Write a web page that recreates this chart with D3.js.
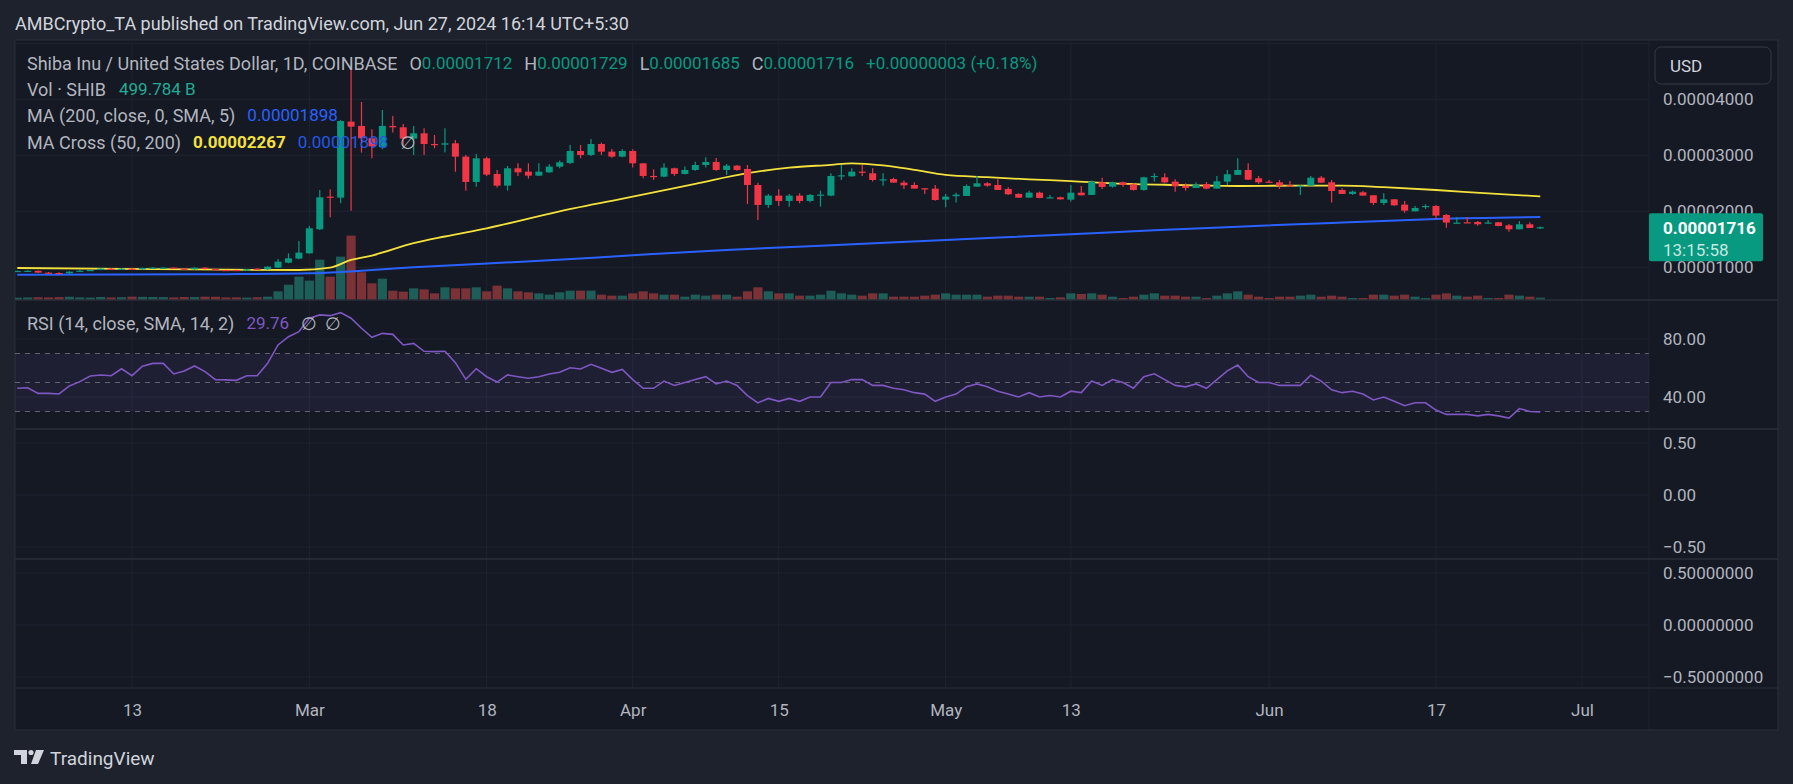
<!DOCTYPE html>
<html><head><meta charset="utf-8">
<script src="https://cdn.jsdelivr.net/npm/d3@7"></script>
<style>
html,body{margin:0;padding:0;background:#1e222d;}
svg{display:block;font-family:Roboto,"Noto Sans",sans-serif;}
</style></head><body>
<svg id="c" width="1793" height="784"></svg>
<script>
// ---------------- DATA ----------------
const firstDay = "2024-02-02", lastDay = "2024-06-27";   // one daily candle per day
const PRICE_UNIT = 1e-5; // prices below are in units of 0.00001 USD
const openP = [
.929,.935,.938,.905,.899,.893,.923,.940,.952,.976,.964,.976,.964,.988,.976,.994,.976,.964,.994,.970,.952,.952,.946,.976,
.964,.994,1.083,1.155,1.250,1.679,2.262,2.244,3.601,3.524,3.304,3.143,3.524,3.500,3.298,3.393,3.202,3.190,3.214,2.976,
2.524,2.946,2.667,2.458,2.768,2.708,2.637,2.696,2.798,2.863,3.077,3.006,3.202,3.065,2.976,3.077,2.857,2.631,2.619,2.768,
2.667,2.738,2.827,2.881,2.738,2.815,2.756,2.470,2.113,2.280,2.185,2.280,2.185,2.286,2.280,2.631,2.625,2.708,2.679,2.560,
2.577,2.512,2.470,2.411,2.405,2.208,2.270,2.274,2.440,2.500,2.470,2.399,2.310,2.244,2.333,2.238,2.250,2.208,2.333,2.292,
2.518,2.440,2.518,2.482,2.381,2.619,2.607,2.530,2.458,2.417,2.488,2.405,2.530,2.650,2.738,2.589,2.530,2.518,2.464,2.452,
2.458,2.601,2.518,2.381,2.310,2.339,2.286,2.149,2.214,2.119,2.000,2.077,2.095,1.935,1.792,1.804,1.810,1.792,1.804,1.750,
1.679,1.768,1.712];
const highP = [
.941,.947,.944,.917,.911,.929,.946,.958,.982,.988,.988,.994,.994,1.006,1.000,1.000,.988,1.000,1.006,.976,.958,.958,.970,.982,
1.020,1.149,1.250,1.470,1.738,2.381,2.393,3.630,4.571,3.952,3.464,3.810,3.702,3.560,3.524,3.482,3.363,3.482,3.274,3.006,
3.024,2.976,2.738,2.810,2.857,2.857,2.857,2.845,2.905,3.185,3.185,3.292,3.226,3.113,3.107,3.107,2.857,2.750,2.857,2.780,
2.798,2.887,2.964,2.952,2.845,2.827,2.827,2.512,2.310,2.393,2.310,2.321,2.310,2.369,2.679,2.827,2.768,2.827,2.768,2.679,
2.601,2.548,2.518,2.411,2.470,2.310,2.333,2.482,2.631,2.518,2.571,2.429,2.321,2.369,2.351,2.292,2.262,2.470,2.452,2.548,
2.601,2.530,2.530,2.500,2.619,2.679,2.679,2.571,2.500,2.518,2.524,2.631,2.738,2.946,2.857,2.631,2.560,2.560,2.542,2.464,
2.631,2.631,2.560,2.411,2.369,2.363,2.286,2.321,2.220,2.185,2.095,2.125,2.113,1.952,1.893,1.893,1.827,1.845,1.810,1.774,
1.827,1.804,1.729];
const lowP = [
.917,.923,.899,.893,.881,.887,.917,.934,.946,.958,.958,.958,.958,.976,.970,.970,.958,.958,.964,.940,.934,.940,.940,.958,
.958,.988,1.071,1.143,1.240,1.667,1.893,2.143,2.012,3.048,2.946,3.107,3.405,3.167,3.006,3.006,3.125,3.048,2.708,2.369,
2.440,2.631,2.423,2.369,2.631,2.583,2.631,2.690,2.768,2.845,2.946,2.988,3.006,2.958,2.964,2.780,2.589,2.560,2.607,2.631,
2.655,2.726,2.780,2.726,2.649,2.726,2.131,1.845,2.065,2.095,2.083,2.143,2.161,2.083,2.270,2.560,2.619,2.631,2.530,2.458,
2.512,2.399,2.405,2.310,2.190,2.071,2.155,2.274,2.440,2.440,2.381,2.292,2.244,2.244,2.232,2.232,2.208,2.173,2.286,2.292,
2.399,2.423,2.440,2.369,2.369,2.530,2.500,2.351,2.369,2.417,2.393,2.405,2.470,2.650,2.560,2.488,2.512,2.399,2.440,2.292,
2.458,2.512,2.155,2.310,2.292,2.280,2.113,2.113,2.101,1.976,2.000,2.042,1.863,1.708,1.792,1.798,1.744,1.780,1.732,1.637,
1.679,1.702,1.685];
const closeP = [
.935,.938,.905,.899,.893,.923,.940,.952,.976,.964,.976,.964,.988,.994,.994,.976,.964,.994,.970,.946,.940,.946,.964,.964,
1.012,1.101,1.161,1.262,1.696,2.250,2.250,3.613,3.512,3.304,3.160,3.524,3.500,3.298,3.393,3.202,3.190,3.214,2.976,2.524,
2.946,2.655,2.458,2.768,2.696,2.637,2.708,2.798,2.875,3.077,3.006,3.202,3.065,2.976,3.077,2.857,2.631,2.625,2.780,2.667,
2.738,2.827,2.881,2.738,2.815,2.738,2.470,2.113,2.280,2.185,2.280,2.185,2.292,2.298,2.631,2.643,2.708,2.696,2.560,2.571,
2.512,2.464,2.405,2.405,2.202,2.262,2.298,2.452,2.500,2.458,2.381,2.304,2.244,2.333,2.238,2.250,2.214,2.333,2.286,2.530,
2.435,2.518,2.470,2.381,2.607,2.631,2.518,2.446,2.417,2.476,2.405,2.536,2.661,2.738,2.565,2.518,2.518,2.458,2.458,2.458,
2.601,2.512,2.363,2.310,2.351,2.280,2.149,2.214,2.107,2.012,2.060,2.095,1.923,1.798,1.798,1.798,1.768,1.800,1.738,1.679,
1.768,1.702,1.716];
// volume in billions of SHIB
const volumeB = [
500,550,600,560,620,700,560,520,650,560,600,720,680,650,620,560,650,640,720,700,560,580,520,600,
720,1870,3300,5040,4180,8700,5040,9360,13900,5980,3600,4600,2000,1800,2520,2300,1440,2740,2520,2520,
2740,1870,3100,2520,1870,1660,1440,1150,1660,2020,2020,2020,1150,940,940,1440,1870,1440,1150,1150,
720,1150,940,1150,1150,720,1870,2740,1870,1440,1440,940,940,1150,2000,1440,1150,940,1440,1440,
720,720,720,940,1150,1440,1150,1150,1150,720,940,940,720,720,720,430,580,1440,1300,1440,
1150,720,430,720,1150,1440,940,940,720,720,430,940,1440,1870,1150,720,430,720,720,940,
1150,720,940,720,430,430,1150,1150,940,1150,720,430,1150,1440,940,720,940,430,430,1150,
940,720,499.784];
const rsi = [
46.0,46.4,42.5,42.5,42.1,47.6,50.6,54.5,55.2,54.7,59.5,54.7,61.2,63.2,63.2,55.9,57.9,61.4,57.5,52.0,51.8,51.5,54.7,54.7,
63.2,75.9,81.6,85.1,94.3,96.6,96.1,98.2,94.3,87.4,81.2,83.9,83.2,75.9,77.0,71.5,71.3,71.5,63.7,52.2,
59.5,54.0,50.3,55.2,54.0,52.9,54.0,55.9,57.0,60.2,59.3,62.5,59.8,57,59,52,46,46,51,48,
50,52,54,49,51,48,41,36,39,37,39,37,40,40,50,50,52,52,48,48,
46,45,43,42,37,40,42,47,49,47,44,42,40,43,40,41,40,44,43,51,
48,52,50,46,54,56,52,48,47,49,46,52,58,62,54,50,50,48,48,48,
55,51,45,43,44,42,38,40,37,34,36,36,31,28,28,28,27,28,27,25.5,
32,30,29.76];
// moving averages (price units of 0.00001 USD)
const ma200Dates = ["2024-02-02","2024-02-12","2024-02-22","2024-03-01","2024-03-06","2024-03-11","2024-03-24","2024-04-01","2024-04-10","2024-04-19","2024-05-01","2024-05-13","2024-05-21","2024-05-29","2024-06-08","2024-06-17","2024-06-27"];
const ma200Vals  = [0.869,0.872,0.878,0.893,0.94,1.0,1.125,1.215,1.31,1.385,1.488,1.589,1.66,1.726,1.80,1.863,1.898];
const ma50Dates = ["2024-02-02","2024-02-12","2024-02-22","2024-02-29","2024-03-03","2024-03-05","2024-03-07","2024-03-11","2024-03-14","2024-03-18","2024-03-25","2024-04-01","2024-04-07","2024-04-12","2024-04-16","2024-04-20","2024-04-22","2024-04-25","2024-04-28","2024-05-01","2024-05-05","2024-05-09","2024-05-13","2024-05-17","2024-05-23","2024-05-29","2024-06-04","2024-06-08","2024-06-12","2024-06-17","2024-06-22","2024-06-27"];
const ma50Vals  = [0.988,0.972,0.958,0.952,0.994,1.131,1.21,1.43,1.55,1.696,2.0,2.262,2.49,2.68,2.78,2.83,2.857,2.82,2.74,2.65,2.61,2.57,2.54,2.5,2.47,2.452,2.46,2.46,2.43,2.38,2.32,2.267];
const timeTickDates = ["2024-02-13","2024-03-01","2024-03-18","2024-04-01","2024-04-15","2024-05-01","2024-05-13","2024-06-01","2024-06-17","2024-07-01"];
const timeTickLabels = ["13","Mar","18","Apr","15","May","13","Jun","17","Jul"];
const priceTicks = [0.00001,0.00002,0.00003,0.00004,0.00005];
const priceTickLabels = [0.00001,0.00002,0.00003,0.00004];
const rsiTicks = [80,40];
const rsiLevels = [70,50,30];
const pane3Ticks = [0.5,0,-0.5];
const pane4Ticks = [0.5,0,-0.5];

// ---------------- LAYOUT ----------------
const svg = d3.select("#c");
const P = {left:15, right:1649, axisR:1778, top:40, main:300, rsi:429, p3:559, p4:688, bottom:730};
const C = {bg:"#1e222d", pane:"#151924", grid:"#1f2330", sep:"#2a2e39", text:"#b2b5be", title:"#d1d4dc",
  up:"#089981", down:"#f23645", volUp:"#1e5e58", volDown:"#7a3237", blue:"#2962ff", yellow:"#f5e13c", purple:"#7e57c2"};
const FS = "18px", NFS = "17px", AXFS = "17px";
const parse = d3.utcParse("%Y-%m-%d");
const days = d3.utcDay.range(parse(firstDay), d3.utcDay.offset(parse(lastDay),1));
const bars = days.map((d,i)=>({date:d,o:openP[i]*PRICE_UNIT,h:highP[i]*PRICE_UNIT,l:lowP[i]*PRICE_UNIT,c:closeP[i]*PRICE_UNIT,v:volumeB[i],r:rsi[i]}));

const x = d3.scaleUtc().domain([parse("2024-02-13"), parse("2024-07-01")]).range([132,1582]);
const yP = d3.scaleLinear().domain([0.00001,0.00004]).range([267.3,99.3]);
const yV = d3.scaleLinear().domain([0,13900]).range([P.main, P.main-64.4]);
const yR = d3.scaleLinear().domain([30,80]).range([411.5,339]);
const y3 = d3.scaleLinear().domain([-0.5,0.5]).range([547,443]);
const y4 = d3.scaleLinear().domain([-0.5,0.5]).range([677,573]);

// backgrounds
svg.append("rect").attr("width",1793).attr("height",784).attr("fill",C.bg);
svg.append("rect").attr("x",P.left).attr("y",P.top).attr("width",P.axisR-P.left).attr("height",P.bottom-P.top)
  .attr("fill",C.pane).attr("stroke",C.sep).attr("stroke-width",1);

const defs = svg.append("defs");
defs.append("clipPath").attr("id","mainclip").append("rect").attr("x",P.left).attr("y",P.top).attr("width",P.right-P.left).attr("height",P.main-P.top);
defs.append("clipPath").attr("id","rsiclip").append("rect").attr("x",P.left).attr("y",P.main).attr("width",P.right-P.left).attr("height",P.rsi-P.main);

// grid
const grid = svg.append("g");
timeTickDates.forEach(s=>{ grid.append("line").attr("x1",x(parse(s))).attr("x2",x(parse(s))).attr("y1",P.top).attr("y2",P.p4).attr("stroke",C.grid); });
priceTicks.forEach(v=>grid.append("line").attr("x1",P.left).attr("x2",P.right).attr("y1",yP(v)).attr("y2",yP(v)).attr("stroke",C.grid));
rsiTicks.forEach(v=>grid.append("line").attr("x1",P.left).attr("x2",P.right).attr("y1",yR(v)).attr("y2",yR(v)).attr("stroke",C.grid));
pane3Ticks.forEach(v=>grid.append("line").attr("x1",P.left).attr("x2",P.right).attr("y1",y3(v)).attr("y2",y3(v)).attr("stroke",C.grid));
pane4Ticks.forEach(v=>grid.append("line").attr("x1",P.left).attr("x2",P.right).attr("y1",y4(v)).attr("y2",y4(v)).attr("stroke",C.grid));

// main pane
const main = svg.append("g").attr("clip-path","url(#mainclip)");
main.selectAll(".vol").data(bars).join("rect")
  .attr("x",d=>x(d.date)-4.6).attr("width",9.2)
  .attr("y",d=>yV(d.v)).attr("height",d=>P.main-yV(d.v))
  .attr("fill",d=>d.c>=d.o?C.volUp:C.volDown);

const maLine = d3.line().x(d=>x(d[0])).y(d=>yP(d[1])).curve(d3.curveMonotoneX);
main.append("path").datum(ma200Dates.map((s,i)=>[parse(s),ma200Vals[i]*PRICE_UNIT])).attr("d",maLine)
  .attr("fill","none").attr("stroke",C.blue).attr("stroke-width",2);
main.append("path").datum(ma50Dates.map((s,i)=>[parse(s),ma50Vals[i]*PRICE_UNIT])).attr("d",maLine)
  .attr("fill","none").attr("stroke",C.yellow).attr("stroke-width",1.8);

const cg = main.selectAll(".cdl").data(bars).join("g");
cg.append("line").attr("x1",d=>x(d.date)).attr("x2",d=>x(d.date))
  .attr("y1",d=>yP(d.h)).attr("y2",d=>yP(d.l)).attr("stroke",d=>d.c>=d.o?C.up:C.down).attr("stroke-width",1.2);
cg.append("rect").attr("x",d=>x(d.date)-3.5).attr("width",7)
  .attr("y",d=>yP(Math.max(d.o,d.c))).attr("height",d=>Math.max(1.2,Math.abs(yP(d.o)-yP(d.c))))
  .attr("fill",d=>d.c>=d.o?C.up:C.down);

// RSI pane
const rg = svg.append("g").attr("clip-path","url(#rsiclip)");
rg.append("rect").attr("x",P.left).attr("width",P.right-P.left).attr("y",yR(70)).attr("height",yR(30)-yR(70)).attr("fill","rgba(126,87,194,0.10)");
rsiLevels.forEach(v=>rg.append("line").attr("x1",P.left).attr("x2",P.right).attr("y1",yR(v)).attr("y2",yR(v))
  .attr("stroke","#787b86").attr("stroke-opacity",0.75).attr("stroke-dasharray","5,5"));
rg.append("path").datum(bars).attr("d",d3.line().x(d=>x(d.date)).y(d=>yR(d.r)))
  .attr("fill","none").attr("stroke",C.purple).attr("stroke-width",1.6);

// separators
[P.main,P.rsi,P.p3].forEach(y=>svg.append("line").attr("x1",P.left).attr("x2",P.axisR).attr("y1",y).attr("y2",y).attr("stroke",C.sep).attr("stroke-width",1.5));
svg.append("line").attr("x1",P.left).attr("x2",P.axisR).attr("y1",P.p4).attr("y2",P.p4).attr("stroke",C.sep);
svg.append("line").attr("x1",P.right).attr("x2",P.right).attr("y1",P.top).attr("y2",P.bottom).attr("stroke",C.sep).attr("stroke-opacity",0.5);

// axes
function styleAxis(g){ g.select(".domain").remove(); g.selectAll(".tick line").remove();
  g.selectAll("text").attr("fill",C.text).style("font-size",AXFS).style("font-family","Roboto,'Noto Sans',sans-serif"); }
[[yP,priceTickLabels,".8f"],[yR,rsiTicks,".2f"],[y3,pane3Ticks,".2f"],[y4,pane4Ticks,".8f"]].forEach(([s,t,f])=>{
  svg.append("g").attr("transform",`translate(${P.right},0)`)
    .call(d3.axisRight(s).tickValues(t).tickFormat(d3.format(f)).tickSize(0).tickPadding(14)).call(styleAxis);
});
svg.append("g").attr("transform",`translate(0,${P.p4+16})`)
  .call(d3.axisBottom(x).tickValues(timeTickDates.map(parse)).tickFormat((d,i)=>timeTickLabels[i]).tickSize(0).tickPadding(0)).call(styleAxis);

// current price label
const last = bars[bars.length-1];
svg.append("rect").attr("x",P.right).attr("y",yP(last.c)-14).attr("width",114).attr("height",48).attr("rx",2).attr("fill",C.up);
svg.append("text").attr("x",1663).attr("y",yP(last.c)+1).attr("dominant-baseline","central").attr("fill","#fff")
  .style("font-size",AXFS).style("font-weight","bold").text(d3.format(".8f")(last.c));
svg.append("text").attr("x",1663).attr("y",yP(last.c)+23).attr("dominant-baseline","central").attr("fill","rgba(255,255,255,0.78)")
  .style("font-size",AXFS).text("13:15:58");

// USD button
svg.append("rect").attr("x",1655).attr("y",47).attr("width",116).attr("height",37).attr("rx",6).attr("fill",C.pane).attr("stroke","#363a45");
svg.append("text").attr("x",1670).attr("y",66).attr("dominant-baseline","central").attr("fill",C.title).style("font-size",AXFS).text("USD");

// legends: [text, colour, dx, bold, isNumber]
function row(y, parts){ const t = svg.append("text").attr("x",27).attr("y",y).attr("dominant-baseline","central").style("font-size",FS);
  parts.forEach(p=>{ const s = t.append("tspan").attr("dx",p[2]||0).attr("fill",p[1]).text(p[0]);
    if(p[3]) s.style("font-weight","bold"); if(p[4]) s.style("font-size",NFS); }); }
row(63,[["Shiba Inu / United States Dollar, 1D, COINBASE",C.text],["O",C.text,12],["0.00001712",C.up,0,false,true],["H",C.text,12],["0.00001729",C.up,0,false,true],
  ["L",C.text,12],["0.00001685",C.up,0,false,true],["C",C.text,12],["0.00001716",C.up,0,false,true],["+0.00000003 (+0.18%)",C.up,12,false,true]]);
row(89,[["Vol · SHIB",C.text],["499.784 B","#22ab94",13,false,true]]);
row(115,[["MA (200, close, 0, SMA, 5)",C.text],["0.00001898",C.blue,12,false,true]]);
row(142,[["MA Cross (50, 200)",C.text],["0.00002267",C.yellow,12,true,true],["0.00001898","#2358e6",12,false,true],["∅",C.text,12]]);
row(323,[["RSI (14, close, SMA, 14, 2)",C.text],["29.76",C.purple,12,false,true],["∅",C.text,12],["∅",C.text,8]]);

// title
svg.append("text").attr("x",15).attr("y",23).attr("dominant-baseline","central").attr("fill",C.title).style("font-size",FS)
  .text("AMBCrypto_TA published on TradingView.com, Jun 27, 2024 16:14 UTC+5:30");

// footer logo
const lg = svg.append("g").attr("fill",C.title);
lg.append("path").attr("d","M14,750 H27 V764 H21 V755 H14 Z");
lg.append("circle").attr("cx",31).attr("cy",752.5).attr("r",2.6);
lg.append("path").attr("d","M36,750 H44 L38,764 H31 Z");
svg.append("text").attr("x",50).attr("y",758).attr("dominant-baseline","central").attr("fill",C.title).style("font-size","19px").text("TradingView");
</script></body></html>
